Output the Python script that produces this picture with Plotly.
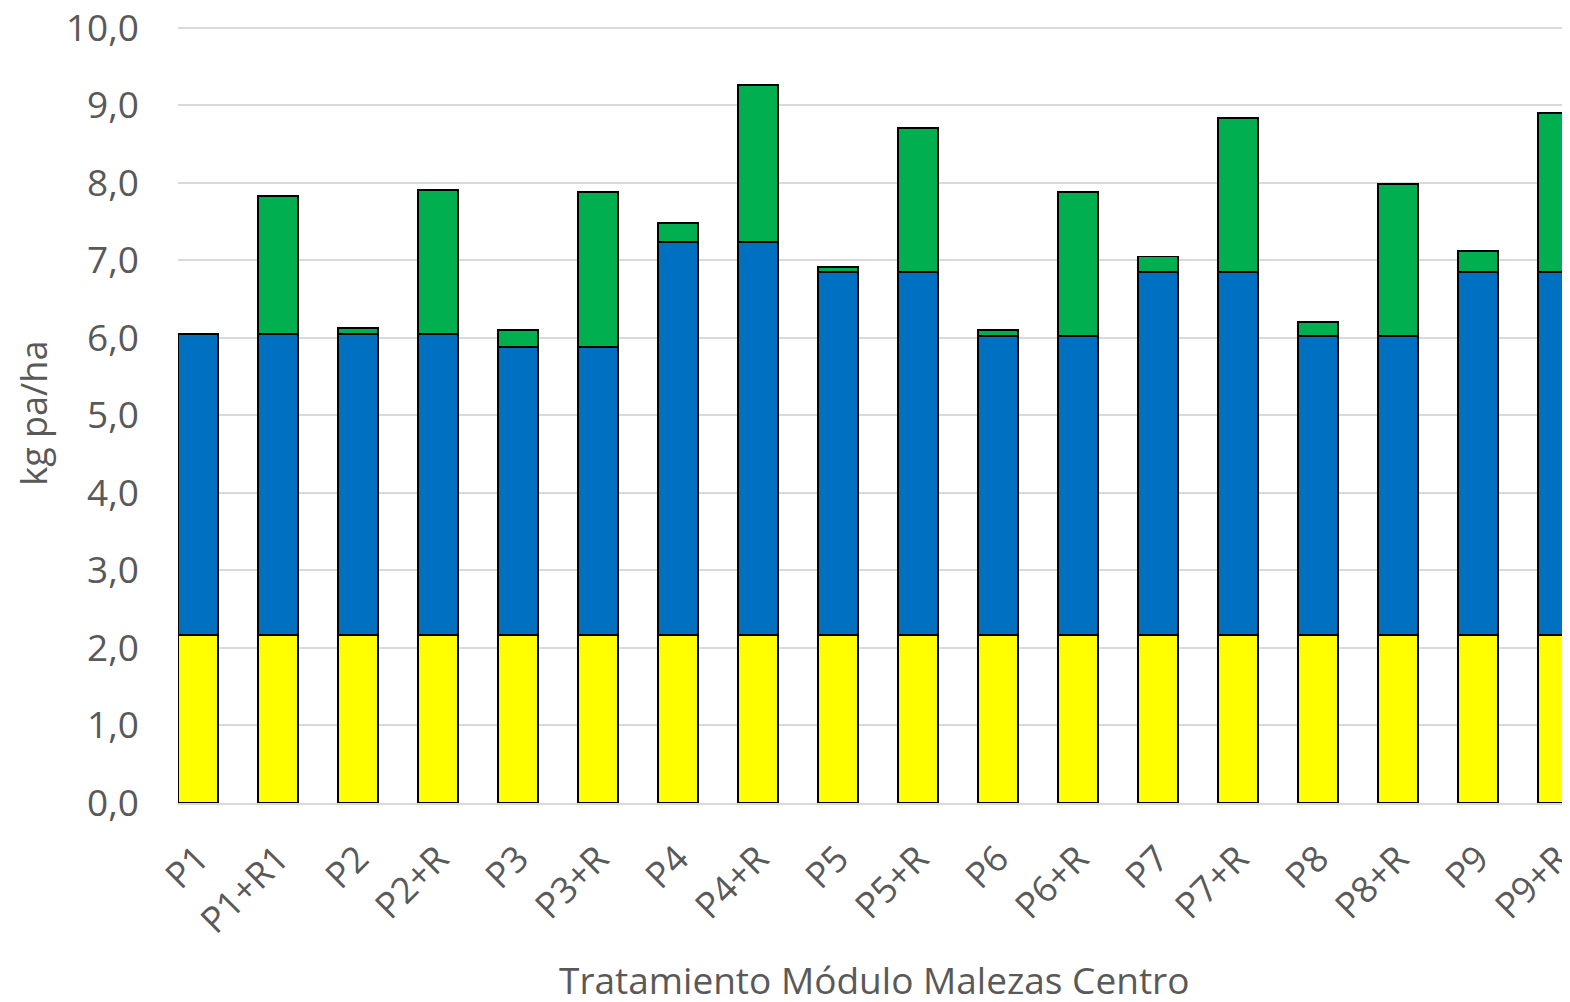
import plotly.graph_objects as go

categories = ["P1", "P1+R1", "P2", "P2+R", "P3", "P3+R", "P4", "P4+R", "P5", "P5+R",
              "P6", "P6+R", "P7", "P7+R", "P8", "P8+R", "P9", "P9+R"]
yellow = [2.17] * 18
blue = [3.88, 3.88, 3.88, 3.88, 3.71, 3.71, 5.07, 5.07, 4.68, 4.68,
        3.86, 3.86, 4.68, 4.68, 3.86, 3.86, 4.68, 4.68]
green = [0.0, 1.78, 0.08, 1.86, 0.22, 2.00, 0.24, 2.02, 0.07, 1.86,
         0.07, 1.85, 0.20, 1.99, 0.18, 1.96, 0.27, 2.05]
y_ticks = [0, 1, 2, 3, 4, 5, 6, 7, 8, 9, 10]

line = dict(color="black", width=1.8)
fig = go.Figure()
for vals, col, name in [(yellow, "#FFFF00", "Base"), (blue, "#0070C0", "Serie 2"), (green, "#00B050", "Serie 3")]:
    fig.add_trace(go.Bar(x=categories, y=vals, name=name, marker=dict(color=col, line=line), width=0.5))

font = "Open Sans"
grey = "#595959"
fig.update_layout(
    barmode="stack",
    width=1562, height=994,
    margin=dict(l=170, r=0, t=16, b=199),
    plot_bgcolor="white", paper_bgcolor="white",
    showlegend=False,
    separators=",.",
    font=dict(family=font, color=grey),
    xaxis=dict(
        range=[-0.25, 17.15],
        tickangle=-45,
        tickfont=dict(size=36, color=grey),
        showgrid=False,
        showline=True, linecolor="#D9D9D9", linewidth=2,
        ticks="",
        ticklabelstandoff=18,
        ticklabeloverflow="allow",
        automargin=False,
    ),
    yaxis=dict(
        range=[0, 10.05],
        tickvals=y_ticks,
        tickformat=".1f",
        tickfont=dict(size=37, color=grey),
        showgrid=True, gridcolor="#D9D9D9", gridwidth=2,
        zeroline=False,
        ticks="",
        ticklabelstandoff=38,
        ticklabeloverflow="allow",
        automargin=False,
    ),
    annotations=[
        dict(text="Tratamiento Módulo Malezas Centro", xref="paper", yref="paper",
             x=0.5, y=-0.227, xanchor="center", yanchor="middle", showarrow=False,
             font=dict(size=37, color=grey)),
        dict(text="kg pa/ha", xref="paper", yref="paper",
             x=-0.104, y=0.5, xanchor="center", yanchor="middle", showarrow=False,
             textangle=-90, font=dict(size=36, color=grey)),
    ],
)
fig.write_html("out.html")
